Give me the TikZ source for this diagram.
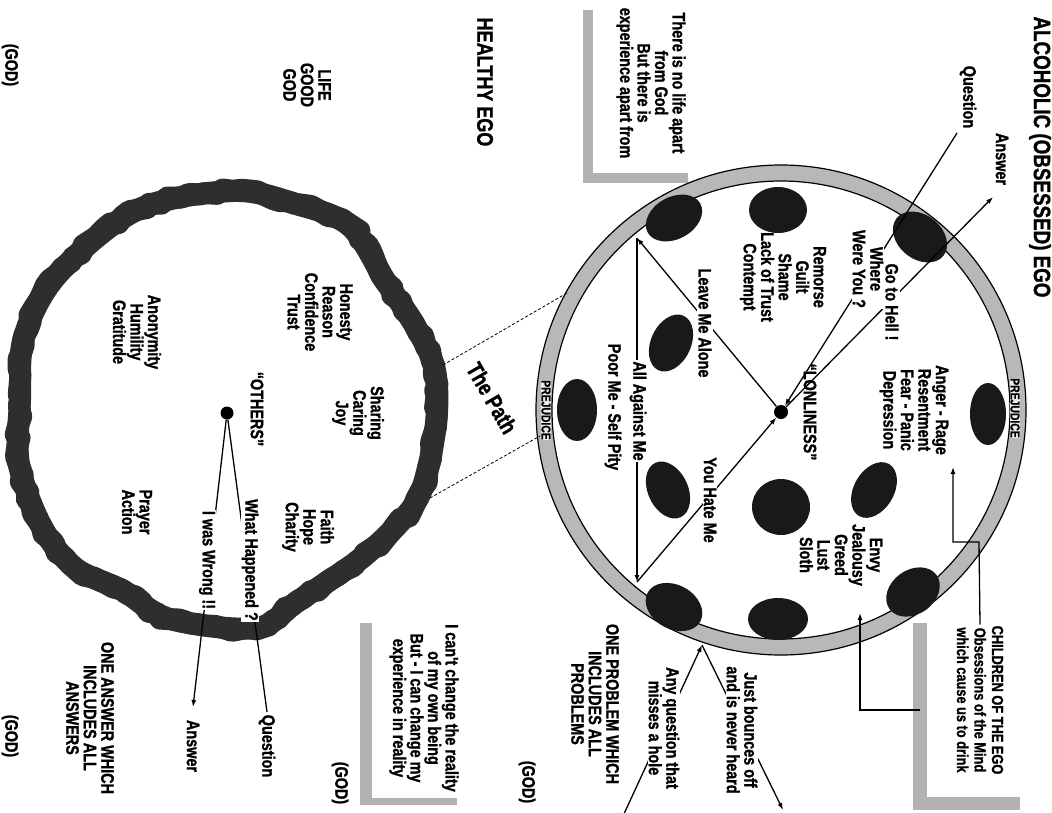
\documentclass[tikz,border=0pt]{standalone}
\usepackage{fontspec}
\newfontfamily\nf[FakeStretch=0.8, BoldFeatures={FakeBold=1.2}]{Liberation Sans}
\usetikzlibrary{arrows.meta,decorations.pathmorphing}
\begin{document}
\begin{tikzpicture}[x=1pt,y=-1pt,
  txt/.style={rotate=-90, align=center, inner sep=1pt, font=\nf\bfseries\fontsize{18}{17.5}\selectfont},
  wtxt/.style={txt, fill=white},
  smalltxt/.style={txt, font=\nf\bfseries\fontsize{16}{17.5}\selectfont},
  bigtxt/.style={txt, font=\nf\bfseries\fontsize{23.5}{26}\selectfont},
  blob/.style={fill=black!90},
  ringband/.style={fill=black!28},
  conn/.style={line width=1.3pt},
  arr/.style={conn, -{Latex[length=7pt,width=5pt]}},
  pathline/.style={line width=0.8pt, dash pattern=on 3pt off 2pt},
  shadowstrip/.style={fill=black!30},
  prej/.style={rotate=-90, inner sep=0.5pt, fill=black!8, font=\nf\bfseries\fontsize{13}{13}\selectfont},
  hring/.style={line width=22pt, black!82, line join=round}
]
\useasboundingbox (0,0) rectangle (1052,812);

% shadow strips of the text boxes
\fill[shadowstrip] (583,10) rectangle (593,183);
\fill[shadowstrip] (583,173) rectangle (688,183);
\fill[shadowstrip] (913,623) rectangle (927,810);
\fill[shadowstrip] (913,797) rectangle (1020,810);
\fill[shadowstrip] (360,623) rectangle (372,805);
\fill[shadowstrip] (360,798) rectangle (457,805);

% alcoholic ego ring
\coordinate (C) at (781,410);
\fill[ringband, even odd rule] (C) circle[radius=245pt] (C) circle[radius=229pt];
\draw[line width=1.2pt] (C) circle[radius=245pt];
\draw[line width=1.2pt] (C) circle[radius=229pt];

% dark ellipses
\foreach \x/\y/\a/\b/\r in {920/237/30/22/-39, 778/210/29/23/0, 674/218/30/21/29, 671/343/30/20/65, 577/410/20/31/0, 668/490/30/20/-65, 674/607/30/22/-29, 778/619/30/21/0, 913/592/29/22/36, 874/490/30/20/60, 781/507/29/28/0, 988/414/18/31/0}
  \fill[blob, rotate around={\r:(\x,\y)}] (\x,\y) ellipse[x radius=\a pt, y radius=\b pt];

\node[prej] (prejl) at (546,410) {PREJUDICE};
\node[prej] (prejr) at (1015,408) {PREJUDICE};

% healthy ego ring
\pgfmathsetseed{12}
\draw[hring] plot[smooth cycle, tension=0.55] coordinates {(233,191) (296,204) (350,226) (386,282) (414,324) (434,366) (437,412) (428,468) (412,508) (364,556) (298,601) (256,628) (170,619) (122,590) (75,568) (42,527) (19,464) (20,400) (24,337) (58,274) (137,210)};
\draw[hring, decorate, decoration={random steps, segment length=8pt, amplitude=2.5pt}] plot[smooth cycle, tension=0.55] coordinates {(233,191) (296,204) (350,226) (386,282) (414,324) (434,366) (437,412) (428,468) (412,508) (364,556) (298,601) (256,628) (170,619) (122,590) (75,568) (42,527) (19,464) (20,400) (24,337) (58,274) (137,210)};

% the dots
\node[circle, fill=black, inner sep=0pt, minimum size=14pt] (dot) at (781,412) {};
\node[circle, fill=black, inner sep=0pt, minimum size=13pt] (hdot) at (227,413) {};

% coordinates for free ends
\coordinate (q0) at (957,133);
\coordinate (ans) at (993,197);
\coordinate (r1) at (637,238);
\coordinate (r2) at (637,582);
\coordinate (b0) at (623,816);
\coordinate (hit) at (702,645);
\coordinate (b1) at (783,810);
\coordinate (hq) at (267,712);
\coordinate (ha) at (193,707);
\coordinate (p1) at (443,365);
\coordinate (p2) at (567,293);
\coordinate (p3) at (430,498);
\coordinate (p4) at (540,436);
\coordinate (c1a) at (979,542);
\coordinate (c1b) at (953,467);
\coordinate (s2) at (920,710);
\coordinate (c2b) at (860,613);

% connectors in the alcoholic ego
\draw[arr] (q0) -- (dot);
\draw[arr] (dot) -- (ans);
\draw[arr] (dot) -- (r1);
\draw[arr] (r1) -- (r2);
\draw[arr] (r2) -- (dot);
\draw[arr] (b0) -- (hit);
\draw[arr] (hit) -- (b1);

% connectors in the healthy ego
\draw[conn] (hq) -- (hdot);
\draw[arr] (hdot) -- (ha);

% the path
\draw[pathline] (p1) -- (p2);
\draw[pathline] (p3) -- (p4);

% children of the ego
\node[smalltxt] (children) at (980,700) {CHILDREN OF THE EGO\\Obsessions of the Mind\\which cause us to drink};
\draw[arr] (children.west) -- (c1a) -| (c1b);
\draw[arr] (s2) -| (c2b);

% texts
\node[bigtxt] (title) at (1040,157) {ALCOHOLIC (OBSESSED) EGO};
\node[txt] (qtop) at (968,97) {Question};
\node[txt] (atop) at (1002,159) {Answer};
\node[txt] (nolife) at (651,83) {There is no life apart\\from God\\But there is\\experience apart from};
\node[txt] (anger) at (914,410) {Anger - Rage\\Resentment\\Fear - Panic\\Depression};
\node[wtxt] (hell) at (892,302) {Go to Hell !};
\node[wtxt] (where) at (868,269) {Where\\Were You ?};
\node[txt] (remorse) at (783,277) {Remorse\\Guilt\\Shame\\Lack of Trust\\Contempt};
\node[txt] (lonely) at (810,412) {“LONLINESS”};
\node[wtxt] (leave) at (705,323) {Leave Me Alone};
\node[wtxt] (against) at (638,411) {All Against Me};
\node[txt] (poor) at (613,407) {Poor Me - Self Pity};
\node[wtxt] (hate) at (710,500) {You Hate Me};
\node[txt] (envy) at (841,555) {Envy\\Jealousy\\Greed\\Lust\\Sloth};
\node[wtxt] (bounce) at (742,730) {Just bounces off\\and is never heard};
\node[wtxt] (anyq) at (664,728) {Any question that\\misses a hole};
\node[txt] (oneprob) at (595,704) {ONE PROBLEM WHICH\\INCLUDES ALL\\PROBLEMS};
\node[txt] (god1) at (527,782) {(GOD)};
\node[txt] (icant) at (424,708) {I can't change the reality\\of my own being\\But - I can change my\\experience in reality};
\node[txt] (god2) at (340,783) {(GOD)};
\node[txt] (qbot) at (267,746) {Question};
\node[txt] (abot) at (193,746) {Answer};
\node[txt] (oneans) at (90,718) {ONE ANSWER WHICH\\INCLUDES ALL\\ANSWERS};
\node[txt] (god3) at (10,736) {(GOD)};
\node[txt] (god4) at (10,65) {(GOD)};
\node[txt] (life) at (307,85) {LIFE\\GOOD\\GOD};
\node[bigtxt, font=\nf\bfseries\fontsize{22.5}{26}\selectfont] (healthy) at (485,82) {HEALTHY EGO};
\node[txt] (honesty) at (320,312) {Honesty\\Reason\\Confidence\\Trust};
\node[txt] (anon) at (137,332) {Anonymity\\Humility\\Gratitude};
\node[txt] (sharing) at (358,413) {Sharing\\Caring\\Joy};
\node[txt] (others) at (257,409) {“OTHERS”};
\node[txt] (faith) at (308,527) {Faith\\Hope\\Charity};
\node[txt] (prayer) at (137,512) {Prayer\\Action};
\node[wtxt] (happened) at (250,560) {What Happened ?};
\node[wtxt] (wrong) at (207,560) {I was Wrong !!};
\node[rotate=-60, inner sep=1pt, font=\nf\bfseries\fontsize{23}{26}\selectfont] (thepath) at (492,398) {The Path};
\end{tikzpicture}
\end{document}
